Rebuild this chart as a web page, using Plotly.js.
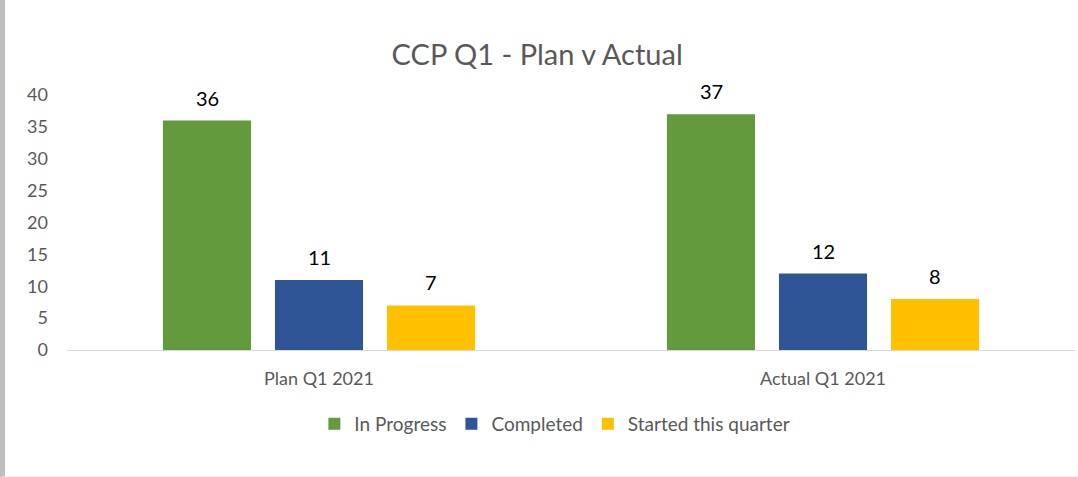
<!DOCTYPE html>
<html>
<head>
<meta charset="utf-8">
<script src="https://cdn.plot.ly/plotly-3.0.1.min.js"></script>
<style>
html,body{margin:0;padding:0;background:#fff;}
#wrap{width:1073px;height:476px;border-left:5px solid #bfbfbf;border-bottom:1px solid #f2f2f2;}
#chart{width:1073px;height:476px;}
</style>
</head>
<body>
<div id="wrap"><div id="chart"></div></div>
<script>
const categories = ["Plan Q1 2021", "Actual Q1 2021"];
const seriesNames = ["In Progress", "Completed", "Started this quarter"];
const inProgress = [36, 37];
const completed = [11, 12];
const startedThisQuarter = [7, 8];
const yTicks = [0, 5, 10, 15, 20, 25, 30, 35, 40];

const colors = ["#629a3d", "#2f5597", "#ffc000"];
const values = [inProgress, completed, startedThisQuarter];
const font = "Lato, 'Open Sans', sans-serif";

const traces = values.map((v, i) => ({
  type: "bar",
  name: seriesNames[i],
  x: categories,
  y: v,
  marker: {color: colors[i]},
  hoverinfo: "x+y+name"
}));

// data labels: one per bar, placed through the axis scales, shifted to each bar's slot
const slotPx = 112; // pixel width of one bar slot within a group
const annotations = [];
values.forEach((v, i) => {
  v.forEach((val, j) => {
    annotations.push({
      xref: "x", yref: "y", x: categories[j], y: val,
      text: String(val), showarrow: false,
      xshift: (i - 1) * slotPx, yshift: 23,
      xanchor: "center", yanchor: "middle",
      font: {family: font, size: 20, color: "#000000"}
    });
  });
});

const layout = {
  width: 1073,
  height: 476,
  margin: {l: 62, r: 3, t: 95, b: 126},
  paper_bgcolor: "#ffffff",
  plot_bgcolor: "#ffffff",
  font: {family: font, color: "#595959"},
  title: {
    text: "CCP Q1 - Plan v Actual",
    font: {family: font, size: 29, color: "#595959"},
    x: 0.496, xanchor: "center", xref: "container",
    y: 0.885, yanchor: "middle", yref: "container"
  },
  barmode: "group",
  bargap: 0.333,
  bargroupgap: 0.214,
  xaxis: {
    showline: true, linecolor: "#d9d9d9", linewidth: 1,
    showgrid: false, zeroline: false, ticks: "",
    tickfont: {family: font, size: 18, color: "#595959"},
    ticklabelstandoff: 12
  },
  yaxis: {
    range: [0, 40], tickvals: yTicks, ticktext: yTicks.map(String),
    showgrid: false, zeroline: false, showline: false, ticks: "",
    tickfont: {family: font, size: 18, color: "#595959"},
    ticklabelstandoff: 18
  },
  annotations: annotations,
  showlegend: true,
  legend: {
    orientation: "h", x: 0.484, xanchor: "center", y: -0.215, yanchor: "top",
    font: {family: font, size: 19, color: "#595959"},
    itemwidth: 30, traceorder: "normal"
  }
};

Plotly.newPlot("chart", traces, layout, {displayModeBar: false, staticPlot: true});
</script>
</body>
</html>
